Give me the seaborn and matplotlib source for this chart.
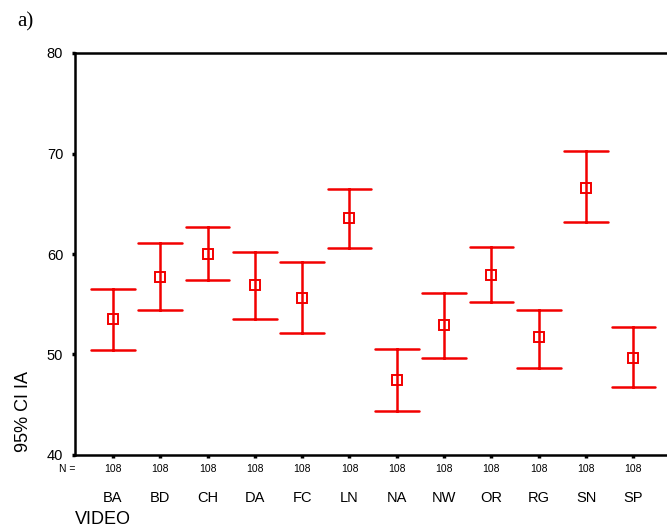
import numpy as np
import pandas as pd
import matplotlib
matplotlib.use("Agg")
import matplotlib.pyplot as plt
import matplotlib.transforms as mtransforms
import seaborn as sns

# ---- data ----
videos = ["BA", "BD", "CH", "DA", "FC", "LN", "NA", "NW", "OR", "RG", "SN", "SP"]
means = [53.5, 57.7, 60.0, 56.9, 55.6, 63.55, 47.5, 52.95, 57.95, 51.7, 66.6, 49.7]
lower = [50.4, 54.45, 57.4, 53.5, 52.1, 60.6, 44.4, 49.7, 55.25, 48.7, 63.15, 46.8]
upper = [56.55, 61.05, 62.7, 60.15, 59.2, 66.45, 50.55, 56.1, 60.7, 54.45, 70.25, 52.75]
n_counts = ["108"] * 12
y_ticks = [40, 50, 60, 70, 80]

rows = []
for v, lo, m, hi in zip(videos, lower, means, upper):
    for val in (lo, m, hi):
        rows.append({"VIDEO": v, "IA": val})
df = pd.DataFrame(rows)

sns.set_style("white", {"text.color": "black", "xtick.color": "black",
                        "ytick.color": "black", "axes.labelcolor": "black",
                        "xtick.bottom": True, "ytick.left": True})
plt.rcParams["font.family"] = ["Liberation Sans", "DejaVu Sans"]

W, H = 667, 529
fig = plt.figure(figsize=(W / 100, H / 100), dpi=100)
ax = fig.add_axes([75 / W, 1 - 455 / H, (667 - 75) / W, (455 - 53) / H])

RED = "#f20000"
sns.pointplot(
    data=df, x="VIDEO", y="IA", order=videos,
    estimator=np.median,
    errorbar=lambda x: (np.min(x), np.max(x)),
    color=RED, markers="s", linestyles="none",
    capsize=0.92,
    err_kws={"linewidth": 1.8, "color": RED},
    markersize=7, markerfacecolor="none", markeredgewidth=1.4,
    ax=ax,
)

ax.set_xlim(-0.80, 11.71)
ax.set_ylim(40, 80)
ax.set_yticks(y_ticks)
ax.set_yticklabels([str(t) for t in y_ticks], fontsize=10.5, color="black")
ax.set_xticks(range(len(videos)))
ax.set_xticklabels(n_counts, fontsize=7.5, color="black")
ax.tick_params(axis="both", direction="out", length=2.5, width=2.5, color="black",
               bottom=True, left=True)
ax.tick_params(axis="x", pad=4)
ax.tick_params(axis="y", pad=6)
ax.set_xlabel("")
ax.set_ylabel("")

for side in ["left", "top", "bottom"]:
    ax.spines[side].set_visible(True)
    ax.spines[side].set_linewidth(1.8)
    ax.spines[side].set_color("black")
ax.spines["right"].set_visible(False)

trans = mtransforms.blended_transform_factory(ax.transData, fig.transFigure)
for i, v in enumerate(videos):
    ax.text(i, 1 - 498 / H, v, transform=trans, ha="center", va="center",
            fontsize=10.5, color="black")

fig.text(75 / W, 1 - 469 / H, "N =", ha="right", va="center", fontsize=7.5, color="black")
fig.text(75 / W, 1 - 519 / H, "VIDEO", ha="left", va="center", fontsize=13, color="black")
fig.text(23 / W, 1 - 411 / H, "95% CI IA", ha="center", va="center", rotation=90,
         fontsize=13, color="black")
fig.text(17 / W, 1 - 22 / H, "a)", ha="left", va="center", fontsize=15, color="black",
         family=["Liberation Serif", "DejaVu Serif"])

fig.savefig("out.png", dpi=100)
